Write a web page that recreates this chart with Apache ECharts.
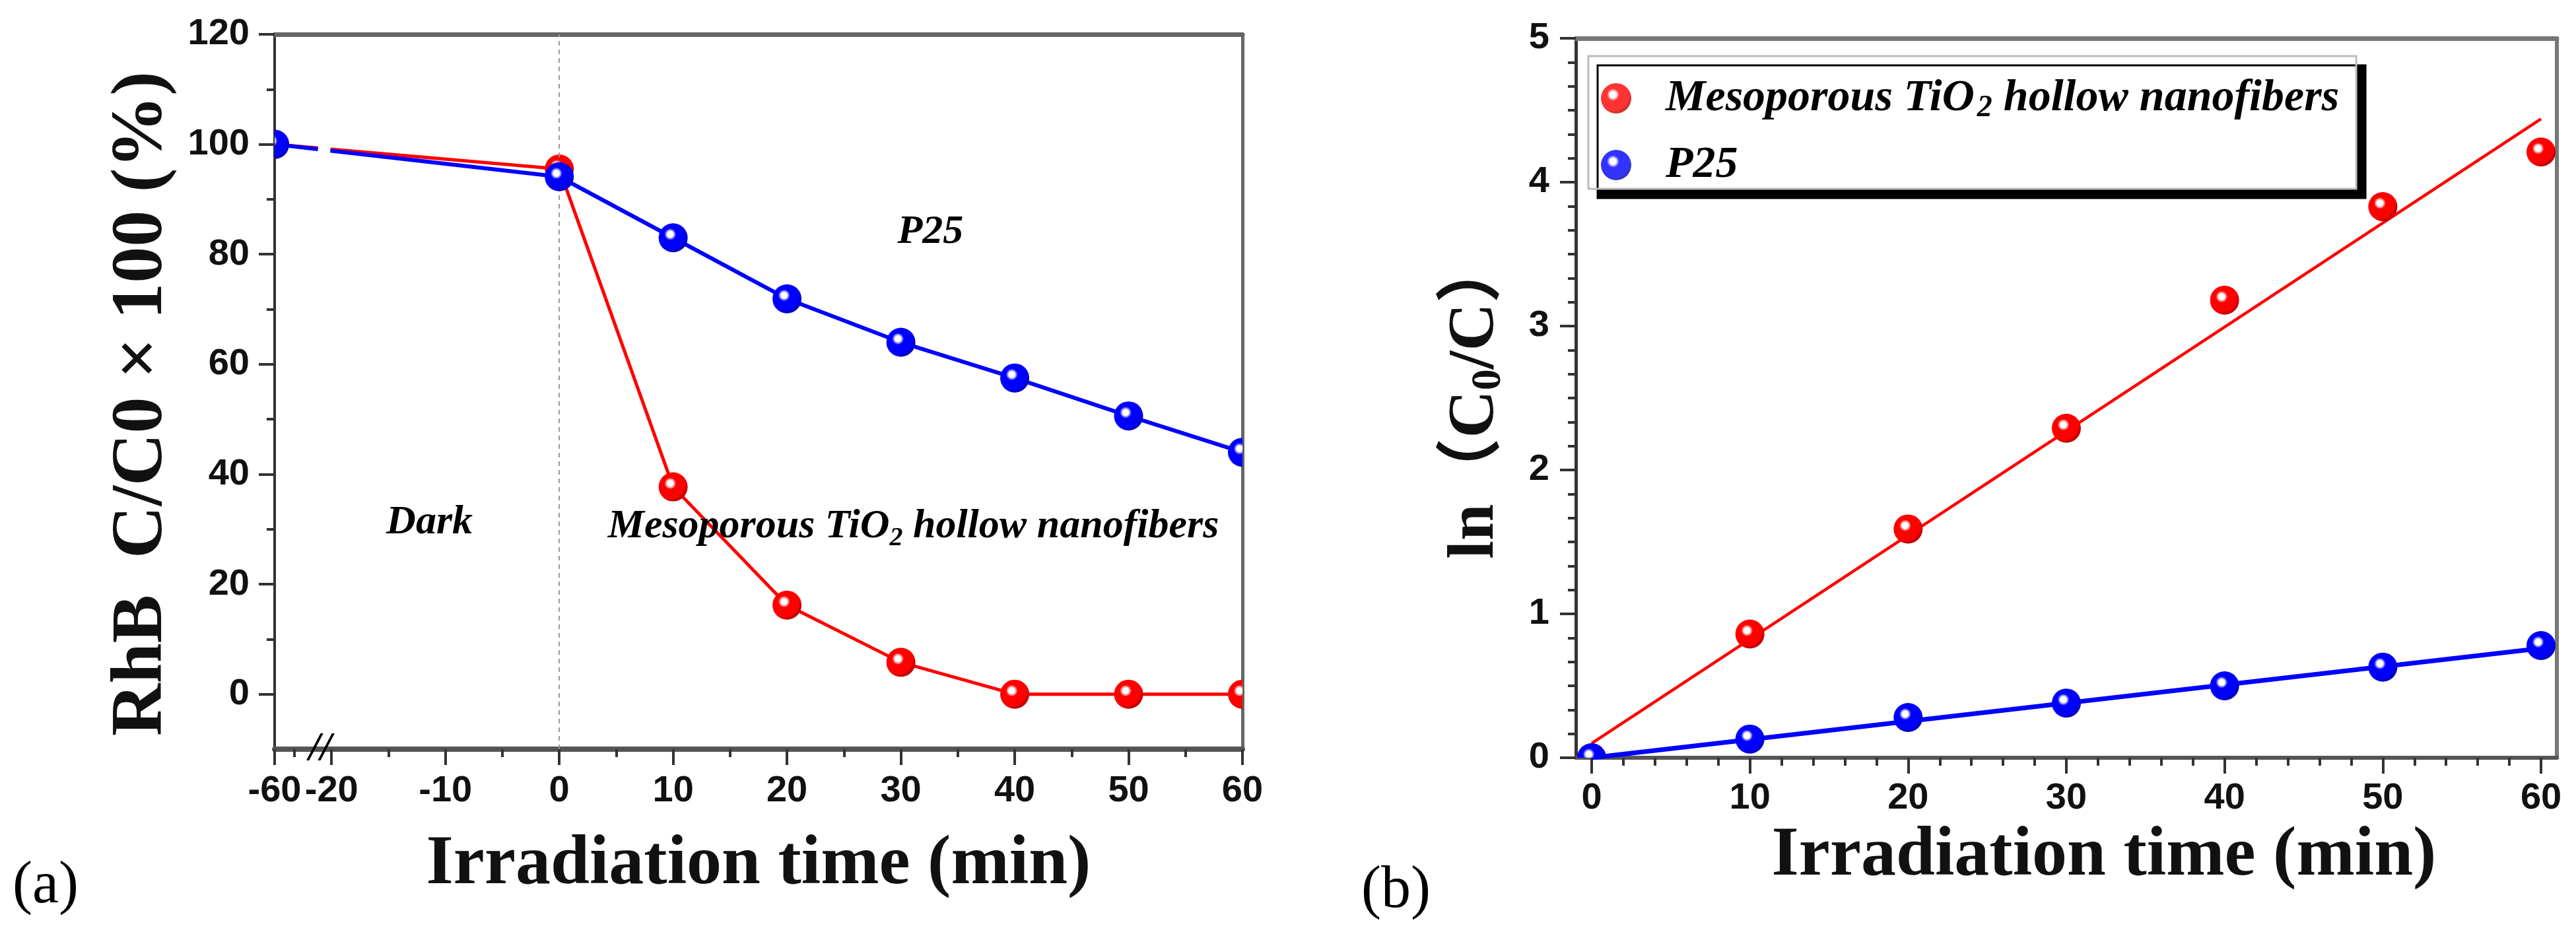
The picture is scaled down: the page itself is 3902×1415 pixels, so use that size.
<!DOCTYPE html>
<html><head><meta charset="utf-8">
<script src="https://cdn.jsdelivr.net/npm/echarts@6/dist/echarts.min.js"></script>
<style>html,body{margin:0;padding:0;background:#fff}#c{width:3902px;height:1415px}</style>
</head><body><div id="c"></div>
<script>
// ---------- Panel (a) data ----------
const timeA = [-60, 0, 10, 20, 30, 40, 50, 60];
const mesoA = [100, 95.5, 37.7, 16.2, 5.8, 0, 0, 0];
const p25A  = [100, 94.1, 83.0, 71.9, 64.0, 57.5, 50.6, 44.0];
const xMajorA = [-60, -20, -10, 0, 10, 20, 30, 40, 50, 60];
const xMinorA = [-23.3, -15, -5, 5, 15, 25, 35, 45, 55];
const yMajorA = [0, 20, 40, 60, 80, 100, 120];
const yMinorA = [10, 30, 50, 70, 90, 110];
const noteTextA = ['P25', 'Dark', 'Mesoporous TiO{sub|2} hollow nanofibers', '//'];
const noteXA = [32.6, -11.4, 31.1, -21];
const noteYA = [84.0, 31.2, 30.4, -10];
// broken axis: the -60 point sits at the axis start (-25 on the continuous scale)
const breakPos = -25;
const toAxisA = t => (t < -20 ? breakPos : t);

// ---------- Panel (b) data ----------
const timeB = [0, 10, 20, 30, 40, 50, 60];
const mesoB = [0, 0.86, 1.59, 2.29, 3.18, 3.83, 4.21];
const p25B  = [0, 0.13, 0.28, 0.38, 0.50, 0.63, 0.78];
const fitMesoB = [[0, 0.10], [60, 4.44]];
const fitP25B  = [[0, 0.0], [60, 0.76]];
const xMajorB = [0, 10, 20, 30, 40, 50, 60];
const xMinorB = [2, 4, 6, 8, 12, 14, 16, 18, 22, 24, 26, 28, 32, 34, 36, 38, 42, 44, 46, 48, 52, 54, 56, 58];
const nameMeso = 'Mesoporous TiO2 hollow nanofibers';
const nameP25 = 'P25';

// ---------- styles ----------
const RED = '#ff0000', BLUE = '#0000ff';
function sphereStops(base, dark) {
  return [{offset: 0, color: '#ffffff'}, {offset: 0.17, color: '#ffffff'},
    {offset: 0.34, color: base}, {offset: 0.85, color: base}, {offset: 1, color: dark}];
}
function sphere(base, dark) {
  return {type: 'radial', x: 0.4, y: 0.38, r: 0.6, colorStops: sphereStops(base, dark)};
}
const tickFont = {fontFamily: 'Liberation Sans', fontWeight: 'bold', fontSize: 56, color: '#111'};
const titleFont = {fontFamily: 'Liberation Serif', fontWeight: 'bold', fontSize: 106, color: '#111'};
const noteFont = {fontFamily: 'Liberation Serif', fontStyle: 'italic', fontWeight: 'bold', fontSize: 62, color: '#000',
  textBorderWidth: 0, textBorderColor: 'transparent', opacity: 1};
const subStyle = {fontFamily: 'Liberation Serif', fontStyle: 'italic', fontWeight: 'bold', fontSize: 40, color: '#000',
  textBorderWidth: 0, padding: [34, 0, 0, 0], verticalAlign: 'bottom'};

function borderAxis(grid, pos, color, width) {
  return {type: 'value', gridIndex: grid, position: pos,
    axisLine: {show: true, onZero: false, lineStyle: {color: color, width: width}},
    axisTick: {show: false}, axisLabel: {show: false}, splitLine: {show: false}};
}
function minorAxis(grid, pos, min, max, vals) {
  return {type: 'value', gridIndex: grid, position: pos, min: min, max: max,
    axisLine: {show: false, onZero: false},
    axisTick: {show: true, length: 12, customValues: vals, lineStyle: {color: '#333', width: 4}},
    axisLabel: {show: false}, splitLine: {show: false}};
}
const labelA = {};
xMajorA.forEach(v => { labelA[toAxisA(v)] = String(v); });

const xA = [
  {type: 'value', gridIndex: 0, position: 'bottom', min: breakPos, max: 60,
   axisLine: {show: true, onZero: false, lineStyle: {color: '#555', width: 8}},
   axisTick: {show: true, length: 24, customValues: xMajorA.map(toAxisA), lineStyle: {color: '#333', width: 4}},
   axisLabel: Object.assign({show: true, margin: 36, customValues: xMajorA.map(toAxisA),
     formatter: v => labelA[v] !== undefined ? labelA[v] : String(v)}, tickFont),
   splitLine: {show: false},
   name: 'Irradiation time (min)', nameLocation: 'middle', nameGap: 123, nameMoveOverlap: false,
   nameTextStyle: titleFont},
  minorAxis(0, 'bottom', breakPos, 60, xMinorA),
  Object.assign(borderAxis(0, 'top', '#666', 7), {min: breakPos, max: 60})
];
const yA = [
  {type: 'value', gridIndex: 0, position: 'left', min: -10, max: 120,
   axisLine: {show: true, onZero: false, lineStyle: {color: '#333', width: 4}},
   axisTick: {show: true, length: 24, customValues: yMajorA, lineStyle: {color: '#333', width: 4}},
   axisLabel: Object.assign({show: true, margin: 38, customValues: yMajorA}, tickFont),
   splitLine: {show: false},
   name: 'RhB  C/C0 × 100 (%)', nameLocation: 'middle', nameGap: 145, nameMoveOverlap: false,
   nameTextStyle: {fontFamily: 'Liberation Serif', fontWeight: 'bold', fontSize: 110, color: '#111', padding: [0, 36, 0, 0]}},
  minorAxis(0, 'left', -10, 120, yMinorA),
  Object.assign(borderAxis(0, 'right', '#666', 5), {min: -10, max: 120})
];
const xB = [
  {type: 'value', gridIndex: 1, position: 'bottom', min: -1, max: 61,
   axisLine: {show: true, onZero: false, lineStyle: {color: '#555', width: 6}},
   axisTick: {show: true, length: 24, customValues: xMajorB, lineStyle: {color: '#333', width: 4}},
   axisLabel: Object.assign({show: true, margin: 34, customValues: xMajorB}, tickFont),
   splitLine: {show: false},
   name: 'Irradiation time (min)', nameLocation: 'middle', nameGap: 97, nameMoveOverlap: false,
   nameTextStyle: Object.assign({padding: [0, 0, 0, 114]}, titleFont)},
  minorAxis(1, 'bottom', -1, 61, xMinorB),
  Object.assign(borderAxis(1, 'top', '#777', 7), {min: -1, max: 61})
];
const yB = [
  {type: 'value', gridIndex: 1, position: 'left', min: 0, max: 5, interval: 1,
   axisLine: {show: true, onZero: false, lineStyle: {color: '#333', width: 5}},
   axisTick: {show: true, length: 24, lineStyle: {color: '#333', width: 4}},
   minorTick: {show: true, splitNumber: 6, length: 12, lineStyle: {color: '#333', width: 4}},
   axisLabel: Object.assign({show: true, margin: 40}, tickFont),
   splitLine: {show: false}, minorSplitLine: {show: false},
   name: 'ln（C{sub|0}/C）', nameLocation: 'middle', nameGap: 100, nameMoveOverlap: false,
   nameTextStyle: {fontFamily: 'Liberation Serif, Noto Sans CJK SC', fontWeight: 'bold', fontSize: 100, color: '#111',
     rich: {sub: {fontFamily: 'Liberation Serif', fontWeight: 'bold', fontSize: 64, color: '#111', padding: [40, 0, 0, 0], verticalAlign: 'bottom'}}}},
  Object.assign(borderAxis(1, 'right', '#777', 6), {min: 0, max: 5})
];

// markers drawn through the axes' scales, clipped to the plot area like the original
function markerSeries(xi, yi, pts, base, dark, z) {
  return {type: 'custom', xAxisIndex: xi, yAxisIndex: yi, z: z, silent: true,
    encode: {x: 0, y: 1}, data: pts,
    renderItem: function (params, api) {
      const p = api.coord([api.value(0), api.value(1)]);
      const cs = params.coordSys;
      return {type: 'circle', shape: {cx: p[0], cy: p[1], r: 22},
        style: {fill: new echarts.graphic.RadialGradient(0.4, 0.38, 0.6, sphereStops(base, dark))},
        clipPath: {type: 'rect', shape: {x: cs.x, y: cs.y, width: cs.width, height: cs.height}}};
    }};
}

const ptsA = (arr) => timeA.map((t, i) => [toAxisA(t), arr[i]]);
const ptsB = (arr) => timeB.map((t, i) => [t, arr[i]]);
const series = [
  // panel (a) dark-period segments (interrupted by the axis break)
  {type: 'line', xAxisIndex: 0, yAxisIndex: 0, data: ptsA(mesoA).slice(0, 2), showSymbol: false, z: 2,
   lineStyle: {color: RED, width: 5, type: [66, 19, 4000]},
   markLine: {silent: true, symbol: 'none', label: {show: false},
     lineStyle: {color: '#999', width: 2, type: [7, 6]}, data: [{xAxis: 0}]}},
  {type: 'line', xAxisIndex: 0, yAxisIndex: 0, data: ptsA(mesoA).slice(1), showSymbol: false, z: 2,
   lineStyle: {color: RED, width: 5}},
  markerSeries(0, 0, ptsA(mesoA), RED, '#c00000', 3),
  {type: 'line', xAxisIndex: 0, yAxisIndex: 0, data: ptsA(p25A).slice(0, 2), showSymbol: false, z: 4,
   lineStyle: {color: BLUE, width: 6, type: [66, 19, 4000]}},
  {type: 'line', xAxisIndex: 0, yAxisIndex: 0, data: ptsA(p25A).slice(1), showSymbol: false, z: 4,
   lineStyle: {color: BLUE, width: 6}},
  markerSeries(0, 0, ptsA(p25A), BLUE, '#0000c0', 5),
  // annotations in panel (a)
  {type: 'scatter', xAxisIndex: 0, yAxisIndex: 0, symbolSize: 1, z: 6, silent: true,
   itemStyle: {color: 'rgba(255,255,255,0)'},
   data: noteTextA.map((t, i) => ({value: [noteXA[i], noteYA[i]], txt: t})),
   label: Object.assign({show: true, position: 'inside',
     formatter: p => p.data.txt, rich: {sub: subStyle}}, noteFont),
   labelLayout: {hideOverlap: false}},
  // panel (b)
  {type: 'line', name: 'fitMeso', xAxisIndex: 3, yAxisIndex: 3, data: fitMesoB, showSymbol: false, z: 2,
   lineStyle: {color: RED, width: 4.5}},
  {type: 'line', name: 'fitP25', xAxisIndex: 3, yAxisIndex: 3, data: fitP25B, showSymbol: false, z: 2,
   lineStyle: {color: BLUE, width: 7}},
  markerSeries(3, 3, ptsB(mesoB), RED, '#c00000', 3),
  markerSeries(3, 3, ptsB(p25B), BLUE, '#0000c0', 4),
  // legend entries
  {type: 'scatter', name: nameMeso, xAxisIndex: 3, yAxisIndex: 3, data: [], itemStyle: {color: sphere(RED, '#c00000')}},
  {type: 'scatter', name: nameP25, xAxisIndex: 3, yAxisIndex: 3, data: [], itemStyle: {color: sphere(BLUE, '#0000c0')}}
];

const chart = echarts.init(document.getElementById('c'), null, {renderer: 'canvas'});
chart.setOption({
  backgroundColor: '#ffffff',
  animation: false,
  grid: [
    {left: 416, top: 52, width: 1466, height: 1083, outerBoundsMode: 'none', containLabel: false},
    {left: 2387, top: 58, width: 1486, height: 1090, outerBoundsMode: 'none', containLabel: false}
  ],
  xAxis: xA.concat(xB),
  yAxis: yA.concat(yB),
  legend: {
    data: [nameMeso, nameP25], orient: 'vertical', left: 2406, top: 85,
    itemWidth: 140, itemHeight: 46, itemGap: 29,
    padding: [30, 26, 2, 19],
    backgroundColor: '#ffffff', borderColor: '#bbbbbb', borderWidth: 3,
    shadowColor: '#000000', shadowBlur: 0, shadowOffsetX: 14, shadowOffsetY: 14,
    selectedMode: false,
    formatter: n => n === nameMeso ? 'Mesoporous TiO{sub|2} hollow nanofibers' : n,
    textStyle: Object.assign({rich: {sub: Object.assign({}, subStyle, {fontSize: 46, padding: [30, 0, 0, 4]})}}, noteFont, {fontSize: 68})
  },
  graphic: [
    {type: 'text', left: 19, top: 1298, style: {text: '(a)', font: '90px "Liberation Serif"', fill: '#000'}},
    {type: 'text', left: 2062, top: 1305, style: {text: '(b)', font: '90px "Liberation Serif"', fill: '#000'}}
  ],
  series: series
});
</script>
</body></html>
